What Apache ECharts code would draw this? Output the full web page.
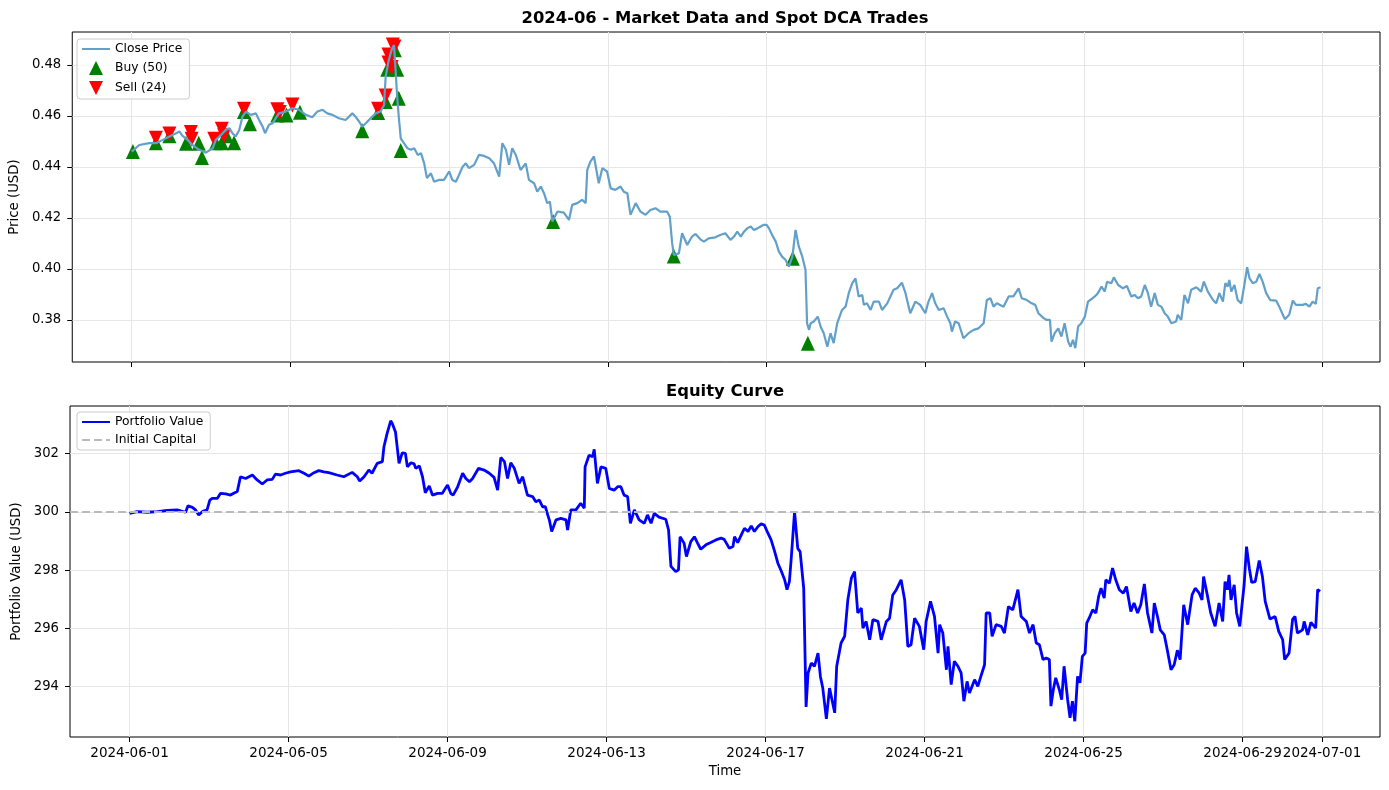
<!DOCTYPE html>
<html lang="en">
	<head>
		<meta charset="UTF-8" />
		<title>2024-06 Spot DCA</title>
		<script src="https://cdn.jsdelivr.net/npm/echarts@6/dist/echarts.min.js"></script>
		<style>
			body { margin: 0; background: #fff; }
		</style>
	</head>
	<body>
		<div id="myChart" style="width: 1389px; height: 790px"></div>

		<script>
			// x values are days since 2024-06-01 00:00 UTC
			const closePrice = [
				[0.00,0.4460],[0.19,0.4486],[0.44,0.4493],[0.61,0.4493],[0.78,0.4506],[0.95,0.4519],[1.12,0.4532],[1.20,0.4539],[1.28,0.4522],[1.41,0.4506],
				[1.53,0.4486],[1.70,0.4467],[1.87,0.4456],[2.04,0.4473],[2.12,0.4506],[2.25,0.4525],[2.37,0.4545],[2.46,0.4552],[2.54,0.4532],[2.62,0.4519],
				[2.71,0.4545],[2.79,0.4597],[2.88,0.4617],[3.00,0.4604],[3.13,0.4610],[3.21,0.4584],[3.30,0.4558],[3.36,0.4532],[3.46,0.4565],[3.55,0.4571],
				[3.63,0.4591],[3.71,0.4610],[3.88,0.4617],[4.05,0.4630],[4.22,0.4624],[4.39,0.4604],[4.55,0.4595],[4.68,0.4617],[4.81,0.4624],[4.93,0.4610],
				[5.06,0.4604],[5.22,0.4591],[5.39,0.4584],[5.56,0.4610],[5.64,0.4597],[5.73,0.4578],[5.81,0.4558],[5.90,0.4571],[6.02,0.4591],[6.15,0.4610],
				[6.27,0.4617],[6.36,0.4643],[6.40,0.4754],[6.47,0.4813],[6.55,0.4859],[6.61,0.4878],[6.65,0.4780],[6.69,0.4676],[6.73,0.4597],[6.78,0.4512],
				[6.95,0.4473],[7.04,0.4467],[7.12,0.4473],[7.21,0.4447],[7.29,0.4454],[7.37,0.4414],[7.44,0.4356],[7.54,0.4375],[7.62,0.4342],[7.75,0.4349],
				[7.87,0.4349],[8.00,0.4382],[8.08,0.4349],[8.17,0.4342],[8.25,0.4369],[8.34,0.4401],[8.42,0.4414],[8.50,0.4395],[8.63,0.4408],[8.75,0.4447],
				[8.88,0.4443],[9.01,0.4434],[9.13,0.4414],[9.26,0.4362],[9.34,0.4493],[9.43,0.4467],[9.51,0.4408],[9.59,0.4473],[9.68,0.4447],[9.80,0.4388],
				[9.93,0.4414],[10.01,0.4349],[10.14,0.4336],[10.22,0.4303],[10.31,0.4323],[10.39,0.4297],[10.47,0.4258],[10.54,0.4264],[10.60,0.4186],[10.73,0.4225],
				[10.89,0.4221],[11.02,0.4192],[11.10,0.4251],[11.23,0.4258],[11.35,0.4271],[11.44,0.4258],[11.48,0.4388],[11.56,0.4421],[11.65,0.4441],[11.69,0.4434],
				[11.77,0.4336],[11.86,0.4395],[11.98,0.4382],[12.07,0.4316],[12.19,0.4310],[12.32,0.4323],[12.40,0.4303],[12.49,0.4297],[12.57,0.4212],[12.70,0.4258],
				[12.82,0.4225],[12.95,0.4212],[13.07,0.4231],[13.20,0.4238],[13.32,0.4225],[13.49,0.4225],[13.56,0.4205],[13.62,0.4101],[13.66,0.4055],[13.79,0.4061],
				[13.87,0.4140],[14.00,0.4094],[14.12,0.4127],[14.21,0.4137],[14.33,0.4116],[14.42,0.4107],[14.54,0.4120],[14.71,0.4124],[14.83,0.4133],[14.96,0.4140],
				[15.09,0.4114],[15.18,0.4127],[15.26,0.4146],[15.35,0.4127],[15.43,0.4146],[15.51,0.4159],[15.60,0.4166],[15.68,0.4153],[15.77,0.4159],[15.85,0.4166],
				[15.93,0.4173],[16.00,0.4173],[16.06,0.4159],[16.14,0.4133],[16.23,0.4107],[16.31,0.4068],[16.39,0.4048],[16.48,0.4035],[16.56,0.4009],[16.65,0.4048],
				[16.73,0.4153],[16.81,0.4088],[16.90,0.4048],[16.98,0.3996],[17.02,0.3787],[17.07,0.3761],[17.11,0.3787],[17.19,0.3794],[17.29,0.3813],[17.36,0.3774],
				[17.44,0.3748],[17.53,0.3695],[17.61,0.3748],[17.69,0.3709],[17.78,0.3787],[17.90,0.3839],[17.99,0.3852],[18.07,0.3905],[18.16,0.3944],[18.24,0.3963],
				[18.32,0.3892],[18.41,0.3898],[18.45,0.3859],[18.53,0.3865],[18.62,0.3839],[18.70,0.3872],[18.83,0.3872],[18.91,0.3839],[19.04,0.3865],[19.12,0.3892],
				[19.20,0.3918],[19.29,0.3924],[19.41,0.3946],[19.50,0.3905],[19.62,0.3826],[19.75,0.3872],[19.87,0.3859],[20.00,0.3826],[20.08,0.3872],[20.17,0.3905],
				[20.25,0.3865],[20.34,0.3839],[20.46,0.3846],[20.55,0.3813],[20.63,0.3787],[20.67,0.3754],[20.75,0.3794],[20.84,0.3787],[20.96,0.3728],[21.09,0.3748],
				[21.22,0.3761],[21.34,0.3767],[21.47,0.3787],[21.55,0.3878],[21.64,0.3885],[21.72,0.3852],[21.80,0.3865],[21.97,0.3852],[22.10,0.3892],[22.22,0.3892],
				[22.35,0.3924],[22.43,0.3885],[22.56,0.3878],[22.68,0.3865],[22.77,0.3859],[22.85,0.3826],[22.98,0.3807],[23.06,0.3800],[23.14,0.3800],[23.18,0.3715],
				[23.26,0.3748],[23.35,0.3767],[23.43,0.3735],[23.51,0.3787],[23.60,0.3715],[23.66,0.3695],[23.72,0.3722],[23.78,0.3689],[23.85,0.3774],[23.93,0.3787],
				[24.02,0.3813],[24.10,0.3872],[24.18,0.3881],[24.27,0.3892],[24.35,0.3905],[24.44,0.3931],[24.52,0.3911],[24.58,0.3950],[24.69,0.3944],[24.75,0.3967],
				[24.86,0.3937],[24.98,0.3924],[25.08,0.3933],[25.19,0.3892],[25.27,0.3898],[25.36,0.3885],[25.44,0.3892],[25.53,0.3937],[25.61,0.3905],[25.69,0.3852],
				[25.78,0.3905],[25.86,0.3859],[25.95,0.3852],[26.03,0.3826],[26.11,0.3813],[26.20,0.3787],[26.32,0.3794],[26.36,0.3820],[26.45,0.3800],[26.53,0.3898],
				[26.62,0.3865],[26.70,0.3918],[26.83,0.3928],[26.95,0.3911],[27.02,0.3950],[27.12,0.3911],[27.25,0.3878],[27.33,0.3865],[27.41,0.3905],[27.50,0.3872],
				[27.56,0.3944],[27.62,0.3931],[27.66,0.3957],[27.71,0.3911],[27.79,0.3937],[27.87,0.3878],[27.96,0.3865],[28.04,0.3937],[28.11,0.4007],[28.17,0.3963],
				[28.25,0.3944],[28.34,0.3950],[28.42,0.3980],[28.50,0.3950],[28.59,0.3905],[28.69,0.3878],[28.84,0.3876],[28.92,0.3852],[29.01,0.3820],[29.06,0.3803],
				[29.17,0.3820],[29.26,0.3876],[29.34,0.3859],[29.51,0.3859],[29.59,0.3863],[29.68,0.3852],[29.76,0.3872],[29.84,0.3863],[29.89,0.3924],[29.96,0.3928],
			];

			const buyTrades = [
				[0.03,0.4460],[0.61,0.4495],[0.95,0.4522],[1.37,0.4493],[1.69,0.4493],[1.77,0.4437],[2.12,0.4495],[2.27,0.4495],[2.39,0.4522],
				[2.58,0.4495],[2.83,0.4617],[2.98,0.4569],[3.67,0.4604],[3.90,0.4604],[4.24,0.4614],[5.81,0.4542],[6.21,0.4613],[6.40,0.4656],
				[6.44,0.4783],[6.63,0.4859],[6.69,0.4783],[6.73,0.4669],[6.78,0.4464],[10.62,0.4186],[13.66,0.4051],[16.66,0.4042],[17.04,0.3709],
			];

			const sellTrades = [
				[0.61,0.4512],[0.95,0.4529],[1.49,0.4535],[1.51,0.4508],[2.08,0.4508],[2.27,0.4548],[2.33,0.4522],[2.83,0.4626],[3.67,0.4624],
				[3.73,0.4613],[4.05,0.4643],[6.21,0.4626],[6.40,0.4678],[6.47,0.4807],[6.47,0.4839],[6.55,0.4790],[6.58,0.4878],[6.62,0.4870],
			];

			const portfolioValue = [
				[0.00,299.95],[0.19,300.01],[0.44,299.99],[0.70,300.01],[0.95,300.05],[1.20,300.07],[1.41,299.99],[1.47,300.21],[1.58,300.16],[1.66,300.07],
				[1.74,299.90],[1.83,300.01],[1.95,300.07],[2.02,300.41],[2.08,300.47],[2.21,300.47],[2.29,300.64],[2.42,300.62],[2.54,300.58],[2.62,300.64],
				[2.71,300.70],[2.79,301.21],[2.92,301.15],[3.09,301.27],[3.21,301.10],[3.34,300.96],[3.46,301.10],[3.59,301.12],[3.67,301.30],[3.80,301.27],
				[3.92,301.33],[4.05,301.38],[4.26,301.42],[4.39,301.33],[4.51,301.23],[4.64,301.35],[4.76,301.42],[4.89,301.38],[5.01,301.35],[5.22,301.27],
				[5.39,301.21],[5.60,301.36],[5.73,301.21],[5.79,301.06],[5.90,301.21],[6.02,301.44],[6.10,301.33],[6.23,301.67],[6.36,301.73],[6.40,302.24],
				[6.48,302.70],[6.57,303.13],[6.61,303.04],[6.69,302.75],[6.78,301.67],[6.86,302.03],[6.94,302.01],[6.99,301.55],[7.08,301.69],[7.16,301.65],
				[7.20,301.50],[7.29,301.58],[7.37,301.21],[7.44,300.66],[7.54,300.89],[7.62,300.58],[7.75,300.64],[7.87,300.64],[8.00,300.93],[8.08,300.64],
				[8.14,300.58],[8.25,300.85],[8.38,301.33],[8.46,301.15],[8.55,301.04],[8.63,301.15],[8.78,301.50],[8.92,301.44],[9.05,301.33],[9.17,301.19],
				[9.26,300.75],[9.34,301.87],[9.43,301.73],[9.51,301.15],[9.59,301.69],[9.68,301.50],[9.80,300.98],[9.89,301.21],[10.01,300.58],[10.14,300.53],
				[10.22,300.35],[10.31,300.41],[10.39,300.18],[10.46,300.18],[10.52,299.90],[10.56,299.73],[10.62,299.33],[10.73,299.73],[10.85,299.78],[10.98,299.73],
				[11.02,299.38],[11.10,300.07],[11.23,300.07],[11.35,300.30],[11.44,300.13],[11.46,301.55],[11.56,301.95],[11.65,301.90],[11.69,302.15],[11.77,300.98],
				[11.86,301.55],[11.98,301.50],[12.07,300.81],[12.19,300.75],[12.28,300.87],[12.36,300.87],[12.44,300.58],[12.53,300.53],[12.60,299.61],[12.70,300.07],
				[12.82,299.73],[12.95,299.61],[13.03,299.90],[13.12,299.61],[13.20,299.95],[13.32,299.82],[13.49,299.75],[13.56,299.38],[13.62,298.13],[13.74,297.95],
				[13.81,298.01],[13.85,299.15],[13.95,298.93],[14.01,298.47],[14.12,298.98],[14.21,299.15],[14.29,298.93],[14.37,298.72],[14.50,298.87],[14.62,298.95],
				[14.75,299.04],[14.88,299.10],[14.96,299.06],[15.09,298.75],[15.18,298.81],[15.22,299.15],[15.30,298.95],[15.39,299.21],[15.47,299.44],[15.56,299.33],
				[15.64,299.52],[15.72,299.33],[15.81,299.50],[15.89,299.59],[15.97,299.55],[16.06,299.27],[16.14,299.04],[16.23,298.64],[16.27,298.70],[16.31,298.24],
				[16.39,297.99],[16.48,297.67],[16.54,297.33],[16.60,297.61],[16.65,298.47],[16.73,300.01],[16.81,298.75],[16.87,298.64],[16.96,297.38],[17.02,293.30],
				[17.07,294.47],[17.15,294.81],[17.23,294.70],[17.32,295.15],[17.38,294.35],[17.44,293.95],[17.53,292.89],[17.61,293.95],[17.74,293.10],[17.79,294.70],
				[17.90,295.50],[17.99,295.73],[18.07,296.98],[18.16,297.73],[18.24,297.95],[18.32,296.53],[18.41,296.70],[18.45,296.01],[18.53,296.24],[18.62,295.61],
				[18.70,296.30],[18.83,296.24],[18.91,295.61],[19.04,296.24],[19.12,296.35],[19.20,297.15],[19.29,297.33],[19.41,297.67],[19.50,296.98],[19.58,295.38],
				[19.66,295.44],[19.75,296.35],[19.87,296.07],[19.98,295.27],[20.04,296.24],[20.15,296.93],[20.25,296.41],[20.34,295.15],[20.38,296.13],[20.46,295.84],
				[20.55,294.58],[20.59,295.38],[20.67,294.07],[20.75,294.87],[20.84,294.70],[20.92,294.47],[20.99,293.50],[21.07,294.18],[21.13,293.78],[21.26,294.24],
				[21.34,294.01],[21.43,294.41],[21.51,294.75],[21.55,296.53],[21.64,296.53],[21.70,295.73],[21.80,296.13],[21.93,296.07],[22.01,295.84],[22.11,296.75],
				[22.22,296.64],[22.35,297.33],[22.43,296.41],[22.56,296.24],[22.64,295.84],[22.73,296.13],[22.81,295.50],[22.89,295.44],[22.98,294.93],[23.06,294.98],
				[23.14,294.93],[23.18,293.33],[23.24,293.90],[23.30,294.30],[23.39,293.90],[23.45,293.55],[23.51,294.70],[23.60,293.55],[23.66,292.93],[23.72,293.50],
				[23.78,292.81],[23.85,294.35],[23.91,294.13],[23.97,295.04],[24.04,295.15],[24.08,296.18],[24.14,296.35],[24.23,296.64],[24.31,296.53],[24.38,297.10],
				[24.44,297.38],[24.52,297.04],[24.56,297.67],[24.65,297.55],[24.73,298.07],[24.81,297.67],[24.90,297.33],[25.00,297.21],[25.08,297.44],[25.19,296.58],
				[25.27,296.87],[25.36,296.53],[25.44,296.81],[25.53,297.53],[25.61,296.53],[25.72,295.84],[25.78,296.87],[25.86,296.41],[25.93,295.95],[26.03,295.78],
				[26.09,295.38],[26.20,294.58],[26.28,294.75],[26.36,295.25],[26.43,294.93],[26.52,296.81],[26.62,296.13],[26.73,297.15],[26.81,297.38],[26.91,297.21],
				[26.98,296.98],[27.02,297.78],[27.12,297.10],[27.20,296.53],[27.31,296.07],[27.41,296.87],[27.50,296.24],[27.56,297.61],[27.62,297.33],[27.66,297.84],
				[27.71,296.98],[27.79,297.50],[27.85,296.53],[27.93,296.07],[28.04,297.50],[28.10,298.81],[28.17,298.07],[28.23,297.58],[28.32,297.61],[28.42,298.33],
				[28.50,297.78],[28.57,296.93],[28.69,296.32],[28.82,296.41],[28.91,295.90],[29.01,295.61],[29.06,294.93],[29.17,295.15],[29.26,296.32],[29.32,296.41],
				[29.38,295.84],[29.51,295.95],[29.55,296.24],[29.64,295.78],[29.72,296.21],[29.84,296.01],[29.89,297.33],[29.95,297.27],
			];

			const initialCapital = 300;
			const dateTicks = ["2024-06-01", "2024-06-05", "2024-06-09", "2024-06-13", "2024-06-17", "2024-06-21", "2024-06-25", "2024-06-29", "2024-07-01"];
			const priceTicks = [0.38, 0.4, 0.42, 0.44, 0.46, 0.48];
			const equityTicks = [294, 296, 298, 300, 302];

			const START = Date.UTC(2024, 5, 1);
			const DAY = 86400000;
			const toTime = (d) => START + d * DAY;
			const toPoints = (rows) => rows.map((r) => [toTime(r[0]), r[1]]);

			// matplotlib style 5% margins on the time range
			const firstDay = closePrice[0][0];
			const lastDay = closePrice[closePrice.length - 1][0];
			const pad = (lastDay - firstDay) * 0.05;
			const xMin = toTime(firstDay - pad);
			const xMax = toTime(lastDay + pad);
			const tickTimes = dateTicks.map((s) => Date.parse(s + "T00:00:00Z"));

			const FONT = "DejaVu Sans";
			const gridLine = { show: true, lineStyle: { color: "#e6e6e6", width: 1 } };
			const UP = "path://M5,0 L10,10 L0,10 Z";
			const DOWN = "path://M0,0 L10,0 L5,10 Z";

			function xAxisFor(i) {
				return {
					type: "value",
					gridIndex: i,
					min: xMin,
					max: xMax,
					axisLine: { show: false },
					axisTick: { show: true, customValues: tickTimes, length: 5, lineStyle: { color: "#000", width: 1 } },
					axisLabel: {
						show: i === 1,
						customValues: tickTimes,
						margin: 9,
						color: "#000",
						fontFamily: FONT,
						fontSize: 13.5,
						formatter: (v) => new Date(v).toISOString().slice(0, 10),
					},
					splitLine: gridLine,
					name: i === 1 ? "Time" : "",
					nameLocation: "middle",
					nameGap: 28,
					nameTextStyle: { color: "#000", fontFamily: FONT, fontSize: 13.3 },
				};
			}

			function yAxisFor(i, min, max, ticks, name, gap, digits) {
				return {
					type: "value",
					gridIndex: i,
					min: min,
					max: max,
					axisLine: { show: false },
					axisTick: { show: true, customValues: ticks, length: 5, lineStyle: { color: "#000", width: 1 } },
					axisLabel: {
						customValues: ticks,
						margin: 11,
						color: "#000",
						fontFamily: FONT,
						fontSize: 13.2,
						formatter: (v) => v.toFixed(digits),
					},
					splitLine: gridLine,
					name: name,
					nameLocation: "middle",
					nameRotate: 90,
					nameGap: gap,
					nameTextStyle: { color: "#000", fontFamily: FONT, fontSize: 13.3 },
				};
			}

			const legendBase = {
				orient: "vertical",
				left: 77,
				itemWidth: 28,
				itemHeight: 14,
				itemGap: 6,
				padding: [4, 7, 4, 4],
				symbolKeepAspect: true,
				backgroundColor: "rgba(255,255,255,0.8)",
				borderColor: "#cccccc",
				borderWidth: 1,
				borderRadius: 3,
				textStyle: { color: "#000", fontFamily: FONT, fontSize: 12.3 },
			};
			const hideSymbol = { opacity: 0 };

			const chartContainer = document.getElementById("myChart");
			const myChart = echarts.init(chartContainer);

			const option = {
				animation: false,
				backgroundColor: "#fff",
				title: [
					{
						text: "2024-06 - Market Data and Spot DCA Trades",
						left: 725,
						textAlign: "center",
						top: 11,
						padding: 0,
						textStyle: { color: "#000", fontFamily: FONT, fontWeight: "bold", fontSize: 16.4 },
					},
					{
						text: "Equity Curve",
						left: 725,
						textAlign: "center",
						top: 384,
						padding: 0,
						textStyle: { color: "#000", fontFamily: FONT, fontWeight: "bold", fontSize: 16.4 },
					},
				],
				legend: [
					Object.assign({}, legendBase, {
						top: 39,
						data: [
							{ name: "Close Price", itemStyle: hideSymbol },
							{ name: "Buy (50)", icon: UP },
							{ name: "Sell (24)", icon: DOWN },
						],
					}),
					Object.assign({}, legendBase, {
						top: 412,
						data: [
							{ name: "Portfolio Value", itemStyle: hideSymbol },
							{ name: "Initial Capital", itemStyle: hideSymbol },
						],
					}),
				],
				grid: [
					{ left: 70, right: 9, top: 32, height: 330, show: true, borderColor: "#000", borderWidth: 1, backgroundColor: "transparent" },
					{ left: 70, right: 9, top: 406, height: 331, show: true, borderColor: "#000", borderWidth: 1, backgroundColor: "transparent" },
				],
				xAxis: [xAxisFor(0), xAxisFor(1)],
				yAxis: [
					yAxisFor(0, 0.3635, 0.4929, priceTicks, "Price (USD)", 43, 2),
					yAxisFor(1, 292.27, 303.64, equityTicks, "Portfolio Value (USD)", 40, 0),
				],
				series: [
					{
						name: "Close Price",
						type: "line",
						xAxisIndex: 0,
						yAxisIndex: 0,
						symbol: "none",
						lineStyle: { color: "#62a0ca", width: 2.2 },
						itemStyle: { color: "#62a0ca" },
						data: toPoints(closePrice),
					},
					{
						name: "Buy (50)",
						type: "scatter",
						xAxisIndex: 0,
						yAxisIndex: 0,
						symbol: "triangle",
						symbolSize: [14, 15],
						itemStyle: { color: "#008000", opacity: 1 },
						data: toPoints(buyTrades),
					},
					{
						name: "Sell (24)",
						type: "scatter",
						xAxisIndex: 0,
						yAxisIndex: 0,
						symbol: "triangle",
						symbolRotate: 180,
						symbolSize: [14, 15],
						itemStyle: { color: "#ff0000", opacity: 1 },
						data: toPoints(sellTrades),
					},
					{
						name: "Portfolio Value",
						type: "line",
						xAxisIndex: 1,
						yAxisIndex: 1,
						symbol: "none",
						lineStyle: { color: "#0000ff", width: 2.8 },
						itemStyle: { color: "#0000ff" },
						data: toPoints(portfolioValue),
					},
					{
						name: "Initial Capital",
						type: "line",
						xAxisIndex: 1,
						yAxisIndex: 1,
						symbol: "none",
						lineStyle: { color: "#bbbbbb", width: 2, type: [8, 4] },
						itemStyle: { color: "#bbbbbb" },
						data: [],
						markLine: {
							silent: true,
							symbol: ["none", "none"],
							label: { show: false },
							lineStyle: { color: "#bbbbbb", width: 2, type: [8, 4] },
							data: [{ yAxis: initialCapital }],
						},
					},
				],
			};

			myChart.setOption(option);

			window.addEventListener("resize", function () {
				myChart.resize();
			});
		</script>
	</body>
</html>
